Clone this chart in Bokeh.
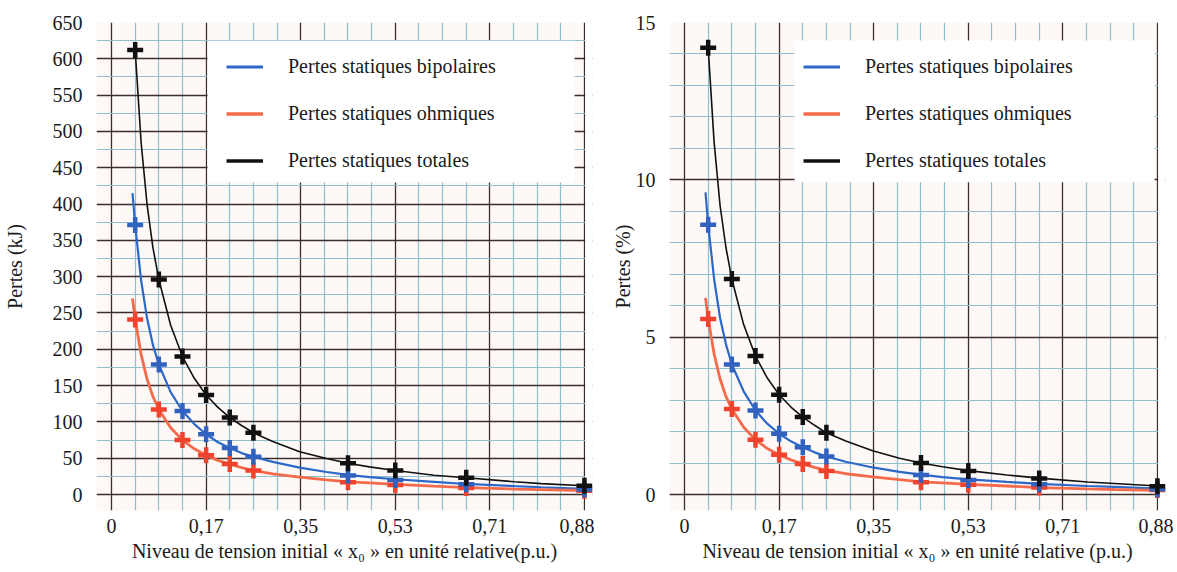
import numpy as np
from bokeh.plotting import figure
from bokeh.models import FixedTicker, Legend, LegendItem, BoxAnnotation, Range1d
from bokeh.layouts import row
from bokeh.embed import file_html
from bokeh.resources import INLINE

# ---------------- data ----------------
x_points = [0.044, 0.088, 0.132, 0.176, 0.22, 0.264, 0.44, 0.528, 0.66, 0.88]

kj_total = [612, 296, 190, 137, 106, 85, 43, 33, 23, 12]
kj_bipolar = [371, 179, 115, 83, 64, 52, 26, 20, 14, 7]
kj_ohmic = [241, 117, 75, 54, 42, 33, 17, 13, 9, 5]

pct_total = [14.2, 6.85, 4.4, 3.17, 2.46, 1.96, 1.0, 0.75, 0.51, 0.26]
pct_bipolar = [8.57, 4.13, 2.67, 1.93, 1.5, 1.21, 0.62, 0.46, 0.33, 0.17]
pct_ohmic = [5.58, 2.72, 1.74, 1.26, 0.97, 0.75, 0.39, 0.31, 0.22, 0.14]

# fitted curves
curve_x = [0.039, 0.044, 0.055, 0.066, 0.077, 0.088, 0.11, 0.132, 0.154, 0.176,
           0.198, 0.22, 0.242, 0.264, 0.30, 0.35, 0.40, 0.44, 0.48, 0.528,
           0.60, 0.66, 0.75, 0.80, 0.88, 0.89]
curve_total_x = [0.044, 0.055, 0.066, 0.077, 0.088, 0.11, 0.132, 0.154, 0.176,
                 0.198, 0.22, 0.242, 0.264, 0.30, 0.35, 0.40, 0.44, 0.48, 0.528,
                 0.60, 0.66, 0.75, 0.80, 0.88, 0.89]

kj_total_curve = [612, 485, 400, 340, 296, 233, 190, 160, 137, 120, 106, 95, 85,
                  73, 59, 49.5, 43, 38, 33, 26.5, 23, 17.5, 15, 12, 11.5]
kj_bipolar_curve = [415, 371, 295, 243, 206, 179, 141, 115, 97, 83, 72, 64, 57, 52,
                    45, 37, 31, 27, 24, 21, 17.5, 14.5, 11.5, 10, 7.8, 7.5]
kj_ohmic_curve = [270, 241, 193, 159, 135, 117, 92, 75, 63, 54, 47, 42, 37, 33,
                  28.5, 24, 20, 17.5, 16, 14, 11.5, 9.5, 7.5, 6.8, 5.5, 5.3]

pct_total_curve = [14.2, 11.2, 9.2, 7.85, 6.85, 5.4, 4.4, 3.7, 3.17, 2.78, 2.46, 2.2,
                   1.96, 1.7, 1.39, 1.15, 1.0, 0.88, 0.76, 0.62, 0.52, 0.4, 0.35,
                   0.27, 0.26]
pct_bipolar_curve = [9.6, 8.57, 6.85, 5.62, 4.78, 4.13, 3.28, 2.67, 2.25, 1.93, 1.69,
                     1.5, 1.34, 1.21, 1.04, 0.86, 0.72, 0.63, 0.55, 0.48, 0.4, 0.34,
                     0.27, 0.24, 0.19, 0.18]
pct_ohmic_curve = [6.25, 5.58, 4.47, 3.68, 3.12, 2.72, 2.14, 1.74, 1.46, 1.26, 1.1,
                   0.97, 0.86, 0.77, 0.66, 0.56, 0.47, 0.4, 0.37, 0.32, 0.27, 0.22,
                   0.18, 0.16, 0.13, 0.12]

x_major = [0, 0.176, 0.352, 0.528, 0.704, 0.88]
x_labels = ["0", "0,17", "0,35", "0,53", "0,71", "0,88"]
x_minor = [0.044, 0.088, 0.132, 0.22, 0.264, 0.308, 0.396, 0.44, 0.484,
           0.572, 0.616, 0.66, 0.748, 0.792, 0.836]

kj_major = [0, 50, 100, 150, 200, 250, 300, 350, 400, 450, 500, 550, 600, 650]
kj_minor = [25, 75, 125, 175, 225, 275, 325, 375, 425, 475, 525, 575, 625]
pct_major = [0, 5, 10, 15]
pct_minor = [1, 2, 3, 4, 6, 7, 8, 9, 11, 12, 13, 14]

series_names = ["Pertes statiques bipolaires", "Pertes statiques ohmiques",
                "Pertes statiques totales"]

# ---------------- styles ----------------
FONT = "Liberation Serif"
BLUE_LINE = "#2b68c8"
BLUE_MARK = "#3162bf"
RED_LINE = "#f46b4c"
RED_MARK = "#f0432e"
BLACK = "#111111"
MAJOR = "#3b2e2c"
MINOR = "#8fbfd0"


def make_fig(y_start, y_end, y_major, y_minor, ylabel, xlabel, left_border,
             right_border, ylabel_standoff, legend_box, legend_x,
             total_curve, bip_curve, ohm_curve, total_pts, bip_pts, ohm_pts):
    p = figure(frame_width=496, frame_height=488, output_backend="svg",
               toolbar_location=None, x_range=Range1d(-0.028, 0.895),
               y_range=Range1d(y_start, y_end),
               min_border_left=left_border, min_border_right=right_border,
               min_border_top=22, min_border_bottom=60)
    p.background_fill_color = "#fef8f6"
    p.border_fill_color = "white"
    p.outline_line_color = None

    xa = p.xaxis[0]
    ya = p.yaxis[0]
    xa.ticker = FixedTicker(ticks=x_major, minor_ticks=x_minor)
    xa.major_label_overrides = {t: l for t, l in zip(x_major, x_labels)}
    ya.ticker = FixedTicker(ticks=y_major, minor_ticks=y_minor)

    for ax in (xa, ya):
        ax.axis_line_color = None
        ax.major_tick_line_color = None
        ax.minor_tick_line_color = None
        ax.major_tick_out = 0
        ax.major_tick_in = 0
        ax.minor_tick_out = 0
        ax.major_label_text_font = FONT
        ax.major_label_text_font_size = "20px"
        ax.major_label_text_color = "#1a1a1a"
        ax.axis_label_text_font = FONT
        ax.axis_label_text_font_size = "20px"
        ax.axis_label_text_font_style = "normal"
        ax.axis_label_text_color = "#1a1a1a"
    xa.major_label_standoff = 8
    xa.axis_label_standoff = 4
    ya.major_label_standoff = 14
    ya.axis_label_standoff = ylabel_standoff
    xa.axis_label = xlabel
    ya.axis_label = ylabel

    for g in (p.xgrid[0], p.ygrid[0]):
        g.level = "image"
        g.grid_line_color = MAJOR
        g.grid_line_width = 1.3
        g.minor_grid_line_color = MINOR
        g.minor_grid_line_width = 1.2

    # white area right of the last grid line, and legend background
    p.add_layout(BoxAnnotation(left=0.8815, fill_color="white", fill_alpha=1.0,
                               line_alpha=0, level="underlay"))
    l, r, t, b = legend_box
    p.add_layout(BoxAnnotation(left=l, right=r, top=t, bottom=b, fill_color="white",
                               fill_alpha=1.0, line_alpha=0, level="underlay"))

    p.line(curve_x, bip_curve, line_color=BLUE_LINE, line_width=2.2)
    p.line(curve_x, ohm_curve, line_color=RED_LINE, line_width=2.8)
    p.line(curve_total_x, total_curve, line_color=BLACK, line_width=1.6)

    p.scatter(x_points, ohm_pts, marker="cross", size=16, line_width=4.5,
              line_color=RED_MARK)
    p.scatter(x_points, bip_pts, marker="cross", size=16, line_width=4.5,
              line_color=BLUE_MARK)
    p.scatter(x_points, total_pts, marker="cross", size=16, line_width=4.5,
              line_color=BLACK)

    # legend swatches (thicker than the curves, as in the original); they
    # carry a single missing value so that nothing is drawn in the plot itself
    sx = np.array(x_points[:1])
    sy = np.array([np.nan])
    kb = p.line(sx, sy, line_color=BLUE_LINE, line_width=3)
    ko = p.line(sx, sy, line_color=RED_LINE, line_width=3.5)
    kt = p.line(sx, sy, line_color=BLACK, line_width=3.5)

    legend = Legend(items=[LegendItem(label=series_names[0], renderers=[kb]),
                           LegendItem(label=series_names[1], renderers=[ko]),
                           LegendItem(label=series_names[2], renderers=[kt])],
                    location=(legend_x, 338))
    legend.background_fill_alpha = 0
    legend.border_line_color = None
    legend.label_text_font = FONT
    legend.label_text_font_size = "20px"
    legend.label_text_color = "#1a1a1a"
    legend.glyph_width = 37
    legend.glyph_height = 23
    legend.label_height = 23
    legend.spacing = 24
    legend.padding = 16
    legend.margin = 0
    legend.label_standoff = 25
    p.add_layout(legend, "center")
    return p


left = make_fig(-22.03, 650, kj_major, kj_minor, "Pertes (kJ)",
                "Niveau de tension initial « x\u2080 » en unité relative(p.u.)",
                96, 2, 24, (0.1786, 0.8616, 625, 429.6), 130,
                kj_total_curve, kj_bipolar_curve, kj_ohmic_curve,
                kj_total, kj_bipolar, kj_ohmic)
right = make_fig(-0.508, 15, pct_major, pct_minor, "Pertes (%)",
                 "Niveau de tension initial « x\u2080 » en unité relative (p.u.)",
                 75, 8, -1, (0.2047, 0.8746, 14.43, 9.92), 134,
                 pct_total_curve, pct_bipolar_curve, pct_ohmic_curve,
                 pct_total, pct_bipolar, pct_ohmic)

layout = row(left, right)
open("out.html", "w").write(file_html(layout, INLINE))
